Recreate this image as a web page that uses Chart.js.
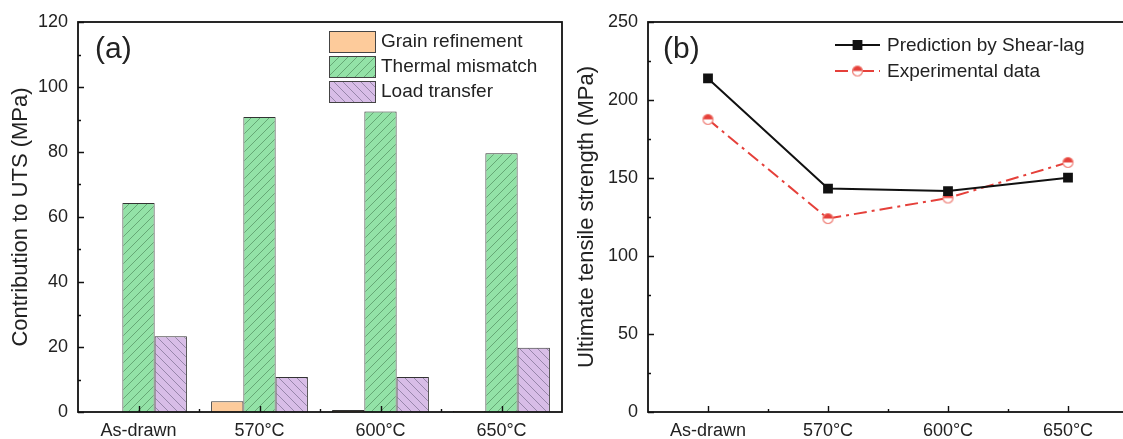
<!DOCTYPE html>
<html>
<head>
<meta charset="utf-8">
<script src="https://cdn.jsdelivr.net/npm/chart.js@4.4.0/dist/chart.umd.min.js"></script>
<style>
html, body { margin: 0; padding: 0; background: #fff; overflow: hidden; width: 1123px; height: 439px; }
#left { position: absolute; left: 0; top: 0; }
#right { position: absolute; left: 560px; top: 0; }
</style>
</head>
<body>
<canvas id="left" width="600" height="439"></canvas>
<canvas id="right" width="580" height="439"></canvas>
<script>
const categories = ['As-drawn', '570°C', '600°C', '650°C'];
const grainRefinement = [0, 3.3, 0.6, 0.3];
const thermalMismatch = [64.3, 90.8, 92.5, 79.6];
const loadTransfer = [23.3, 10.8, 10.8, 19.8];
const shearLag = [213.8, 143.2, 141.6, 150.2];
const experimental = [187.6, 124, 137.2, 160];
const barTicks = [0, 20, 40, 60, 80, 100, 120];
const lineTicks = [0, 50, 100, 150, 200, 250];

const FONT = "'Liberation Sans', Arial, sans-serif";
Chart.defaults.font.family = FONT;
Chart.defaults.color = '#222';

function hatch(ctx, bg, line, dir) {
    const c = document.createElement('canvas');
    c.width = 9; c.height = 9;
    const g = c.getContext('2d');
    g.fillStyle = bg;
    g.fillRect(0, 0, 9, 9);
    g.strokeStyle = line;
    g.lineWidth = 0.8;
    g.beginPath();
    if (dir > 0) {
        g.moveTo(-1, 10); g.lineTo(10, -1);
        g.moveTo(-1, 1); g.lineTo(1, -1);
        g.moveTo(8, 10); g.lineTo(10, 8);
    } else {
        g.moveTo(-1, -1); g.lineTo(10, 10);
        g.moveTo(8, -1); g.lineTo(10, 1);
        g.moveTo(-1, 8); g.lineTo(1, 10);
    }
    g.stroke();
    return ctx.createPattern(c, 'repeat');
}

function halfCircle() {
    const c = document.createElement('canvas');
    c.width = 13; c.height = 13;
    const g = c.getContext('2d');
    g.beginPath(); g.arc(6.5, 6.5, 5, 0, 2 * Math.PI);
    g.fillStyle = '#fff'; g.fill();
    g.beginPath(); g.arc(6.5, 6.5, 5, Math.PI, 2 * Math.PI); g.closePath();
    g.fillStyle = '#e5403a'; g.fill();
    g.beginPath(); g.arc(6.5, 6.5, 5, 0, 2 * Math.PI);
    g.strokeStyle = '#ef8078'; g.lineWidth = 1.2; g.stroke();
    return c;
}

// Origin-like frame with inward ticks and panel letter
const originFrame = {
    id: 'originFrame',
    afterDatasetsDraw(chart, args, opts) {
        const {ctx, chartArea: a, scales} = chart;
        ctx.save();
        ctx.strokeStyle = '#111';
        ctx.lineWidth = 1.8;
        ctx.strokeRect(a.left, a.top, a.right - a.left, a.bottom - a.top);
        ctx.lineWidth = 1.4;
        ctx.beginPath();
        const y = scales.y;
        const half = opts.yStep / 2;
        for (let v = y.min; v <= y.max + 0.01; v += half) {
            const py = Math.round(y.getPixelForValue(v)) + 0.5;
            const len = Math.round(v / half) % 2 === 0 ? 6 : 3;
            ctx.moveTo(a.left, py); ctx.lineTo(a.left + len, py);
        }
        const x = scales.x;
        const n = chart.data.labels.length;
        for (let i = 0; i < n; i++) {
            let px = Math.round(x.getPixelForValue(i)) + 0.5;
            ctx.moveTo(px, a.bottom); ctx.lineTo(px, a.bottom - 6);
            if (i < n - 1) {
                px = Math.round(x.getPixelForValue(i + 0.5)) + 0.5;
                ctx.moveTo(px, a.bottom); ctx.lineTo(px, a.bottom - 3);
            }
        }
        ctx.stroke();
        ctx.fillStyle = '#222';
        ctx.font = `30px ${FONT}`;
        ctx.textBaseline = 'middle';
        ctx.fillText(opts.label, a.left + opts.labelDx, a.top + 28);
        ctx.restore();
    }
};

const panelLegend = {
    id: 'panelLegend',
    afterDraw(chart, args, opts) {
        const ctx = chart.ctx;
        ctx.save();
        chart.data.datasets.forEach((ds, i) => {
            const cy = opts.y + i * opts.rowH;
            if (opts.kind === 'box') {
                ctx.fillStyle = ds.backgroundColor;
                ctx.fillRect(opts.x, cy - 10, 46, 21);
                ctx.strokeStyle = '#444';
                ctx.lineWidth = 1;
                ctx.strokeRect(opts.x + 0.5, cy - 9.5, 46, 21);
            } else {
                ctx.strokeStyle = ds.borderColor;
                ctx.lineWidth = ds.borderWidth;
                ctx.setLineDash(ds.borderDash || []);
                ctx.beginPath();
                ctx.moveTo(opts.x, cy); ctx.lineTo(opts.x + 45, cy);
                ctx.stroke();
                ctx.setLineDash([]);
                ctx.fillStyle = ds.pointBackgroundColor || ds.borderColor;
                Chart.helpers.drawPoint(ctx, {pointStyle: ds.pointStyle, radius: ds.pointRadius, rotation: 0, borderWidth: 1}, opts.x + 22.5, cy);
            }
            ctx.fillStyle = '#222';
            ctx.font = `19px ${FONT}`;
            ctx.textBaseline = 'middle';
            ctx.fillText(ds.label, opts.x + opts.textDx, cy + 1);
        });
        ctx.restore();
    }
};

const leftCtx = document.getElementById('left').getContext('2d');
new Chart(leftCtx, {
    type: 'bar',
    data: {
        labels: categories,
        datasets: [
            {
                label: 'Grain refinement',
                data: grainRefinement,
                backgroundColor: '#FDCB9B',
                borderColor: '#333',
                borderWidth: 1
            },
            {
                label: 'Thermal mismatch',
                data: thermalMismatch,
                backgroundColor: hatch(leftCtx, '#93E2A7', '#5a9868', 1),
                borderColor: '#333',
                borderWidth: 1
            },
            {
                label: 'Load transfer',
                data: loadTransfer,
                backgroundColor: hatch(leftCtx, '#D8BDE7', '#86779a', -1),
                borderColor: '#333',
                borderWidth: 1
            }
        ]
    },
    options: {
        responsive: false,
        animation: false,
        datasets: { bar: { categoryPercentage: 0.8, barPercentage: 1.0 } },
        layout: { padding: { top: 22, right: 38, left: 0, bottom: 0 } },
        plugins: {
            legend: { display: false },
            tooltip: { enabled: false },
            originFrame: { yStep: 20, label: '(a)', labelDx: 17 },
            panelLegend: { kind: 'box', x: 329, y: 41, rowH: 25, textDx: 52 }
        },
        scales: {
            x: {
                grid: { display: false, drawTicks: false },
                border: { display: false },
                ticks: { font: { size: 18 }, padding: 8 },
                afterFit(s) { s.height = 27; }
            },
            y: {
                min: 0,
                max: 120,
                grid: { display: false, drawTicks: false },
                border: { display: false },
                ticks: { font: { size: 18 }, padding: 10 },
                afterBuildTicks(s) { s.ticks = barTicks.map(v => ({ value: v })); },
                title: { display: true, text: 'Contribution to UTS (MPa)', font: { size: 22 }, padding: { top: 8, bottom: 0 } },
                afterFit(s) { s.width = 78; }
            }
        }
    },
    plugins: [originFrame, panelLegend]
});

const rightCtx = document.getElementById('right').getContext('2d');
new Chart(rightCtx, {
    type: 'line',
    data: {
        labels: categories,
        datasets: [
            {
                label: 'Prediction by Shear-lag',
                data: shearLag,
                borderColor: '#111',
                backgroundColor: '#111',
                pointBackgroundColor: '#111',
                pointBorderColor: '#111',
                borderWidth: 2,
                pointStyle: 'rect',
                pointRadius: 5.5,
                tension: 0
            },
            {
                label: 'Experimental data',
                data: experimental,
                borderColor: '#e5403a',
                backgroundColor: '#e5403a',
                borderWidth: 2,
                borderDash: [13, 5, 3, 5],
                pointStyle: halfCircle(),
                pointRadius: 6,
                tension: 0
            }
        ]
    },
    options: {
        responsive: false,
        animation: false,
        layout: { padding: { top: 22, right: 12, left: 0, bottom: 0 } },
        plugins: {
            legend: { display: false },
            tooltip: { enabled: false },
            originFrame: { yStep: 50, label: '(b)', labelDx: 15 },
            panelLegend: { kind: 'line', x: 275, y: 45, rowH: 26, textDx: 52 }
        },
        scales: {
            x: {
                offset: true,
                grid: { display: false, drawTicks: false },
                border: { display: false },
                ticks: { font: { size: 18 }, padding: 8 },
                afterFit(s) { s.height = 27; }
            },
            y: {
                min: 0,
                max: 250,
                grid: { display: false, drawTicks: false },
                border: { display: false },
                ticks: { font: { size: 18 }, padding: 10 },
                afterBuildTicks(s) { s.ticks = lineTicks.map(v => ({ value: v })); },
                title: { display: true, text: 'Ultimate tensile strength (MPa)', font: { size: 22 }, padding: { top: 14, bottom: 0 } },
                afterFit(s) { s.width = 88; }
            }
        }
    },
    plugins: [originFrame, panelLegend]
});
</script>
</body>
</html>
